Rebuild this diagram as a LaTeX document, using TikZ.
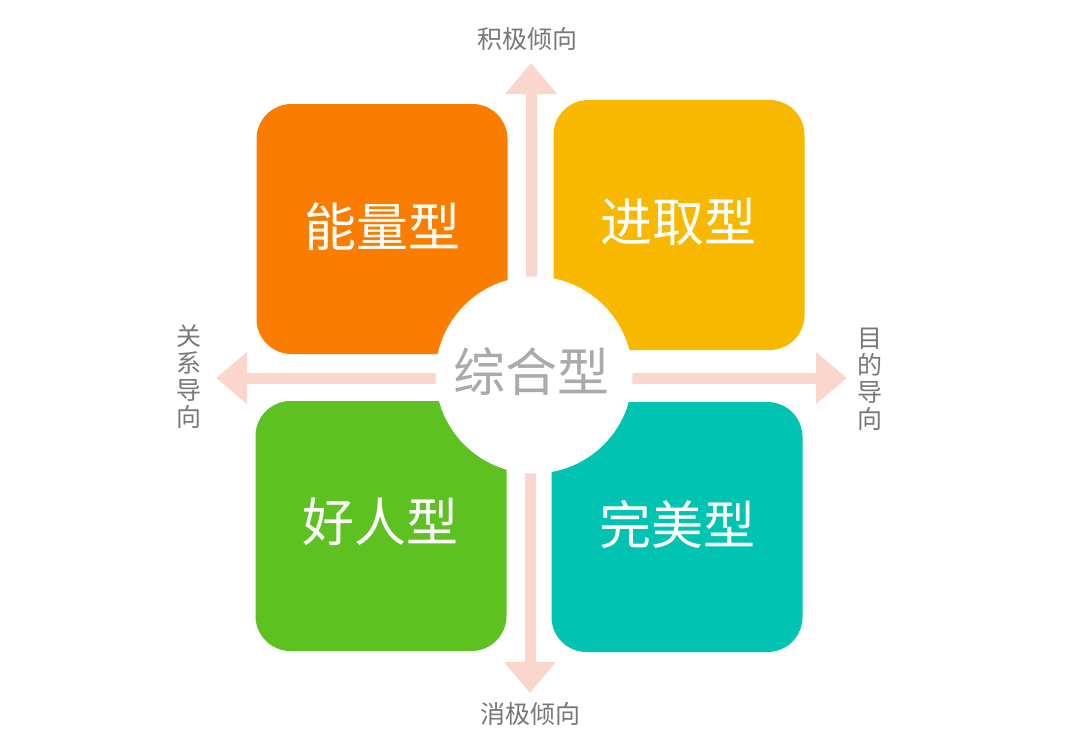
\documentclass[tikz,border=0pt]{standalone}
\usepackage{fontspec}
\newfontfamily\cjk{Noto Sans CJK SC}
\usetikzlibrary{arrows.meta}
\definecolor{arrowpink}{RGB}{251,214,204}
\definecolor{cOrange}{RGB}{250,125,0}
\definecolor{cYellow}{RGB}{249,184,0}
\definecolor{cGreen}{RGB}{93,193,34}
\definecolor{cTeal}{RGB}{0,195,177}
\definecolor{labelgray}{RGB}{120,120,120}
\definecolor{centergray}{RGB}{170,170,170}
\tikzset{
  axis/.style={draw=arrowpink, line width=11pt, line cap=butt,
    -{Triangle[length=31pt,width=50pt]}},
  quad/.style={rounded corners=35pt, minimum width=251pt, minimum height=250pt,
    inner sep=0pt},
  bigtext/.style={text=white, font=\cjk\fontsize{52}{60}\selectfont, inner sep=0pt},
  axlabel/.style={text=labelgray, font=\cjk\fontsize{25}{27}\selectfont, inner sep=0pt, align=center},
}
\begin{document}
\begin{tikzpicture}[x=1pt,y=-1pt]
\useasboundingbox (0,0) rectangle (1080,753);
\fill[white] (0,0) rectangle (1080,753);
\coordinate (cV) at (531,377);
\coordinate (cV2) at (530,377);
\coordinate (cH) at (532,378);
\coordinate (tipT) at (531,63);
\coordinate (tipB) at (530,693);
\coordinate (tipL) at (216,378);
\coordinate (tipR) at (847,378);
\draw[axis] (cV) -- (tipT);
\draw[axis] (cV2) -- (tipB);
\draw[axis] (cH) -- (tipL);
\draw[axis] (cH) -- (tipR);
\node[quad, fill=cOrange] (eng) at (382,229) {};
\node[quad, fill=cYellow] (jq) at (679,225) {};
\node[quad, fill=cGreen] (hr) at (381,526) {};
\node[quad, fill=cTeal] (wm) at (677,527) {};
\node[circle, fill=white, minimum size=197pt, inner sep=0pt] (zh) at (534,375) {};
\node[bigtext] (tEng) at (382,227) {能量型};
\node[bigtext] (tJq) at (678,222) {进取型};
\node[bigtext] (tHr) at (380,522) {好人型};
\node[bigtext] (tWm) at (677,525) {完美型};
\node[bigtext, text=centergray] (tZh) at (531,372) {综合型};
\node[axlabel] (lt) at (527,39) {积极倾向};
\node[axlabel] (lb) at (530,714) {消极倾向};
\node[axlabel] (ll) at (189,377) {关\\系\\导\\向};
\node[axlabel] (lr) at (870,379) {目\\的\\导\\向};
\end{tikzpicture}
\end{document}
